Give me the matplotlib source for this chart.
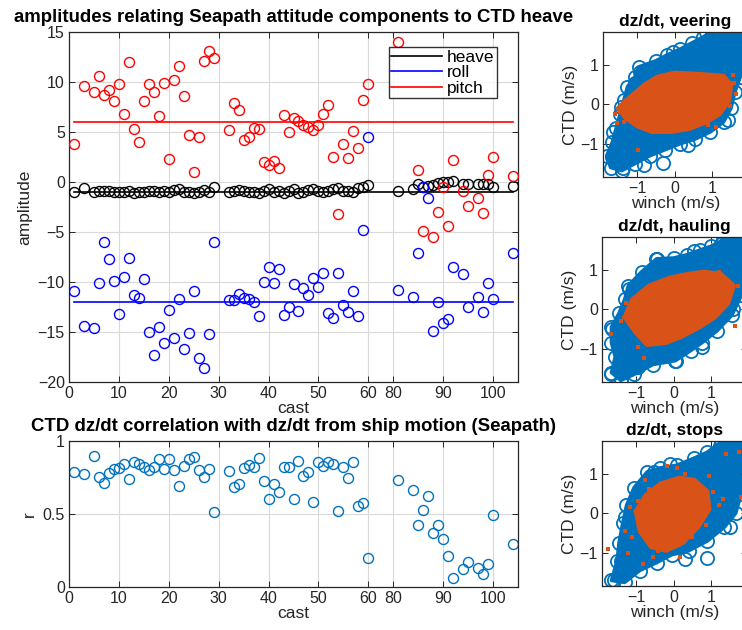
import numpy as np
import matplotlib
matplotlib.use("Agg")
import matplotlib.pyplot as plt

plt.rcParams['font.family'] = ['Liberation Sans', 'DejaVu Sans']

# ---------------- data ----------------
casts = [1, 3, 5, 6, 7, 8, 9, 10, 11, 12, 13, 14, 15, 16, 17, 18, 19, 20, 21, 22, 23, 24, 25, 26, 27, 28, 29,
         32, 33, 34, 35, 36, 37, 38, 39, 40, 41, 42, 43, 44, 45, 46, 47, 48, 49, 50, 51, 52, 53, 54, 55, 56, 57,
         58, 59, 60, 81, 84, 85, 86, 87, 88, 89, 90, 91, 92, 94, 95, 97, 98, 99, 100, 104]

heave = [-1.0, -0.6, -0.93, -0.83, -0.83, -0.87, -0.93, -0.93, -0.93, -0.83, -1.1, -1.0, -0.93, -0.87, -0.83,
         -0.93, -0.87, -0.93, -0.77, -0.63, -0.93, -1.0, -1.03, -0.93, -0.77, -0.93, -0.5,
         -0.93, -0.83, -0.73, -0.87, -0.93, -0.93, -1.03, -0.83, -0.7, -0.93, -0.83, -1.1, -0.83, -0.7, -1.03,
         -0.93, -0.77, -0.67, -0.83, -0.93, -0.83, -0.67, -0.6, -0.83, -0.83, -0.93, -0.6, -0.5, -0.27,
         -0.83, -0.7, -0.2, -0.43, -0.4, -0.27, -0.07, 0.07, 0.07, 0.13, -0.17, -0.13, -0.13, -0.17, -0.17, -0.43, -0.33]

roll = [-10.83, -14.37, -14.53, -10.03, -5.93, -7.67, -9.87, -13.17, -9.43, -7.57, -11.27, -11.53, -9.67, -15.0,
        -17.27, -14.47, -16.03, -12.77, -15.53, -11.67, -16.7, -15.03, -10.83, -17.53, -18.53, -15.13, -6.0,
        -11.8, -11.77, -11.13, -11.53, -11.67, -12.0, -13.4, -10.0, -8.47, -10.03, -8.67, -13.27, -12.43, -10.2,
        -12.87, -10.6, -11.27, -9.6, -10.43, -9.1, -13.1, -13.6, -9.1, -12.27, -13.0, -10.87, -13.33, -4.77, 4.57,
        -10.77, -11.47, -7.1, -0.47, -1.6, -14.87, -12.0, -14.03, -13.67, -8.43, -9.13, -12.43, -11.43, -12.93,
        -10.1, -11.67, -7.03]

pitch = [3.83, 9.67, 9.07, 10.63, 8.73, 9.23, 8.13, 9.8, 6.8, 12.03, 5.3, 4.0, 8.13, 9.8, 9.07, 6.67, 9.97, 2.33,
         10.2, 11.63, 8.63, 4.73, 1.0, 4.57, 12.13, 13.17, 12.4,
         5.2, 7.93, 7.27, 4.2, 4.53, 5.4, 5.37, 2.03, 1.73, 2.13, 1.47, 6.73, 5.0, 6.4, 6.13, 5.73, 5.5, 5.2, 5.73,
         6.8, 7.73, 2.57, -3.13, 3.83, 2.47, 5.13, 3.47, 8.2, 9.8,
         14.07, np.nan, 1.27, -4.87, np.nan, -5.5, -3.0, -0.43, -4.4, 2.27, -0.87, -2.4, -1.6, -3.03, 0.77, 2.5, 0.67]

corr_r = [0.789, 0.776, 0.899, 0.755, 0.714, 0.778, 0.810, 0.817, 0.842, 0.737, 0.856, 0.842, 0.824, 0.801, 0.819,
          0.874, 0.808, 0.879, 0.799, 0.691, 0.831, 0.876, 0.892, 0.801, 0.755, 0.810, 0.515,
          0.796, 0.686, 0.705, 0.817, 0.833, 0.824, 0.881, 0.728, 0.600, 0.705, 0.652, 0.819, 0.824, 0.600, 0.863,
          0.760, 0.787, 0.583, 0.854, 0.828, 0.858, 0.842, 0.522, 0.819, 0.744, 0.854, 0.556, 0.577, 0.199,
          0.735, 0.662, 0.423, 0.523, 0.620, 0.366, 0.422, 0.326, 0.210, 0.060, 0.119, 0.170, 0.128, 0.090, 0.155,
          0.490, 0.290]

mean_heave, mean_roll, mean_pitch = -1.0, -12.0, 6.0

xtick_vals = [0, 10, 20, 30, 40, 50, 60, 80, 90, 100]
series_names = ['heave', 'roll', 'pitch']

# scatter clouds: outlines and edge points (winch, CTD in m/s)
veer_blue_x = [1.00, 0.75, 0.45, 0.15, -0.20, -0.50, -0.95, -1.05, -1.25, -1.35, -1.45, -1.55, -1.65, -1.80, -1.70,
               -1.40, -1.05, -0.65, -0.25, 0.15, 0.55, 0.95, 1.30, 1.50, 1.60, 1.75, 1.90, 2.05, 2.05]
veer_blue_y = [1.85, 1.70, 1.55, 1.40, 1.25, 1.10, 0.95, 0.70, 0.45, 0.10, -0.25, -0.60, -0.95, -1.30, -1.60,
               -1.68, -1.50, -1.30, -1.15, -1.00, -0.88, -0.70, -0.45, -0.10, 0.30, 0.70, 1.00, 1.30, 1.95]
veer_edge_x = [0.84, -0.04, -0.92, -1.05, -1.41, -1.63, -1.67, -1.37, -0.80, -0.31, 0.35, 1.41, 1.63]
veer_edge_y = [1.84, 1.33, 0.82, 0.53, -0.07, -0.70, -1.33, -1.62, -1.54, -1.49, -1.03, -0.40, 0.99]
veer_or_x = [-1.50, -1.30, -1.10, -0.80, -0.45, 0.00, 0.45, 0.90, 1.30, 1.50, 1.45, 1.20, 0.85, 0.40, -0.10, -0.60,
             -1.00, -1.30]
veer_or_y = [-0.10, 0.10, 0.25, 0.50, 0.70, 0.80, 0.78, 0.75, 0.72, 0.50, 0.10, -0.25, -0.45, -0.62, -0.70, -0.70,
             -0.55, -0.35]
veer_out_x = [-1.52, -0.97, 1.59, 1.10, 1.55, -1.45, 1.48, -1.35, 0.90, 1.62, -1.58]
veer_out_y = [-0.48, -1.16, 0.53, -0.57, 0.75, -0.20, -0.05, -0.45, -0.52, 0.25, -0.25]

haul_blue_x = [1.30, 1.00, 0.70, 0.35, 0.00, -0.45, -0.85, -1.20, -1.30, -1.45, -1.65, -1.65, -1.55, -1.65, -1.40,
               -1.05, -0.55, 0.05, 0.45, 0.75, 1.15, 1.55, 1.80, 1.95, 2.05, 2.05]
haul_blue_y = [1.75, 1.60, 1.50, 1.38, 1.30, 1.28, 0.95, 0.60, 0.25, -0.10, -0.45, -0.85, -1.20, -1.60, -1.80,
               -1.65, -1.40, -1.30, -1.05, -0.85, -0.55, -0.15, 0.35, 1.00, 1.60, 1.95]
haul_edge_x = [-0.47, -1.18, -1.63, -1.67, -1.40, 0.06, 1.57, 1.26, 0.55, -0.95, 0.75]
haul_edge_y = [1.27, 0.51, -0.51, -1.65, -1.84, -1.31, 0.00, 1.66, 1.48, -1.45, -0.95]
haul_or_x = [-1.30, -1.10, -0.65, -0.10, 0.40, 0.80, 1.25, 1.60, 1.45, 1.10, 0.70, 0.20, -0.20, -0.70, -1.00]
haul_or_y = [-0.20, 0.25, 0.60, 0.80, 0.90, 0.95, 0.90, 0.60, 0.15, -0.20, -0.45, -0.70, -0.85, -0.90, -0.60]
haul_out_x = [-1.67, -1.27, 1.62, -0.78, 1.70, -1.40, 1.20, -0.95]
haul_out_y = [-0.63, 0.17, -0.43, -1.22, 0.60, -0.30, 0.95, -0.95]

stop_blue_x = [1.25, 0.90, 0.55, 0.10, -0.35, -0.70, -1.05, -1.25, -1.35, -1.45, -1.50, -1.65, -1.30, -0.90, -0.45,
               -0.05, 0.40, 0.90, 1.35, 1.65, 1.80, 1.90, 2.05, 2.05]
stop_blue_y = [1.80, 1.55, 1.40, 1.22, 1.15, 1.05, 0.65, 0.20, -0.25, -0.75, -1.20, -1.70, -1.75, -1.45, -1.25,
               -1.05, -0.95, -0.70, -0.35, 0.00, 0.50, 1.10, 1.50, 1.95]
stop_edge_x = [-1.59, -0.53, -0.09, -1.28, 0.88, 1.50, 1.24, 1.59, -1.40, 0.30]
stop_edge_y = [-1.69, 1.04, 1.25, -0.10, -1.14, -0.35, 1.71, 1.38, -1.20, -1.15]
stop_or_x = [-1.00, -0.75, -0.35, 0.15, 0.55, 0.90, 0.95, 0.65, 0.25, -0.20, -0.60, -0.90]
stop_or_y = [0.05, 0.45, 0.75, 0.90, 0.85, 0.55, 0.10, -0.35, -0.75, -0.95, -0.85, -0.45]
stop_out_x = [-1.73, -0.18, -0.65, -1.15, 0.18, -0.80, 1.75, 1.80, 0.95, 1.30, -1.10, 0.50, -0.40, 1.05, -0.95,
              0.30, 1.40, -1.20, -0.55, 0.85, -0.75, 1.20, -1.30, 0.10]
stop_out_y = [-0.90, 1.20, 0.62, 0.15, -1.10, -1.28, 1.55, 0.40, 0.95, 0.35, -0.60, -0.60, -0.95, 0.55, 0.30,
              1.00, 1.50, -1.00, -1.10, -0.30, 0.85, 0.20, -0.45, 1.15]

# ---------------- styling helpers ----------------
AX_COL = '#262626'
BLUE_M = '#0072BD'
ORANGE_M = '#D95319'
FS = 11.5
TITLE_FS = 13.4


def plotted_x(c):
    c = np.asarray(c, dtype=float)
    return np.where(c >= 80, c - 15, c)


def style_axes(ax, grid=True):
    for s in ax.spines.values():
        s.set_color(AX_COL)
        s.set_linewidth(0.9)
    ax.tick_params(direction='in', top=True, right=True, colors=AX_COL, labelsize=FS,
                   length=4, width=0.7, labelcolor=AX_COL, pad=3)
    if grid:
        ax.grid(True, color='#d9d9d9', linewidth=0.8)
        ax.set_axisbelow(True)


W, H = 742, 630
fig = plt.figure(figsize=(W / 100, H / 100), dpi=100)


def px_axes(l, t, r, b):
    return fig.add_axes([l / W, 1 - b / H, (r - l) / W, (b - t) / H])


xp = plotted_x(casts)
xtick_pos = plotted_x(xtick_vals)

# ---------------- top-left: amplitudes ----------------
ax1 = px_axes(69, 32.3, 518, 382.3)
style_axes(ax1)
ms = 7.2
ax1.plot(xp, heave, 'o', mfc='none', mec='black', ms=ms, mew=1.0, zorder=3)
ax1.plot(xp, roll, 'o', mfc='none', mec='blue', ms=ms, mew=1.0, zorder=3)
ax1.plot(xp, pitch, 'o', mfc='none', mec='red', ms=ms, mew=1.0, zorder=3)
xr = [xp[0], xp[-1]]
l1, = ax1.plot(xr, [mean_heave] * 2, color='black', lw=1.2, zorder=2)
l2, = ax1.plot(xr, [mean_roll] * 2, color='blue', lw=1.2, zorder=2)
l3, = ax1.plot(xr, [mean_pitch] * 2, color='red', lw=1.2, zorder=2)
ax1.set_xlim(0, 90)
ax1.set_ylim(-20, 15)
ax1.set_xticks(xtick_pos)
ax1.set_xticklabels([str(v) for v in xtick_vals])
ax1.set_yticks(np.arange(-20, 16, 5))
ax1.set_xlabel('cast', fontsize=FS + 1, color=AX_COL, labelpad=0)
ax1.set_ylabel('amplitude', fontsize=FS + 1, color=AX_COL, labelpad=4)
ax1.set_title('amplitudes relating Seapath attitude components to CTD heave', fontsize=TITLE_FS,
              fontweight='bold', pad=7.5)
leg = ax1.legend([l1, l2, l3], series_names, loc='upper right', bbox_to_anchor=(0.953, 0.958),
                 fontsize=FS + 1, frameon=True, fancybox=False, handlelength=2.9, handletextpad=0.3,
                 borderpad=0.15, labelspacing=0.02, borderaxespad=0.0)
leg.get_frame().set_edgecolor('black')
leg.get_frame().set_linewidth(1.0)

# ---------------- bottom-left: correlation ----------------
ax2 = px_axes(69, 441, 518, 586.7)
style_axes(ax2)
ax2.plot(xp, corr_r, 'o', mfc='none', mec=BLUE_M, ms=ms, mew=1.0)
ax2.set_xlim(0, 90)
ax2.set_ylim(0, 1)
ax2.set_xticks(xtick_pos)
ax2.set_xticklabels([str(v) for v in xtick_vals])
ax2.set_yticks([0, 0.5, 1])
ax2.set_yticklabels(['0', '0.5', '1'])
ax2.set_xlabel('cast', fontsize=FS + 1, color=AX_COL, labelpad=0)
ax2.set_ylabel('r', fontsize=FS + 1, color=AX_COL, labelpad=4)
ax2.set_title('CTD dz/dt correlation with dz/dt from ship motion (Seapath)', fontsize=TITLE_FS,
              fontweight='bold', pad=7.5)

# ---------------- right: scatter clouds ----------------
clouds = [
    ('dz/dt, veering', (603, 32, 748, 177), veer_blue_x, veer_blue_y, veer_edge_x, veer_edge_y,
     veer_or_x, veer_or_y, veer_out_x, veer_out_y),
    ('dz/dt, hauling', (602, 237, 747, 382), haul_blue_x, haul_blue_y, haul_edge_x, haul_edge_y,
     haul_or_x, haul_or_y, haul_out_x, haul_out_y),
    ('dz/dt, stops', (602, 441, 747, 586), stop_blue_x, stop_blue_y, stop_edge_x, stop_edge_y,
     stop_or_x, stop_or_y, stop_out_x, stop_out_y),
]
for title, (l, t, r, b), bx, by, ex, ey, ox, oy, qx, qy in clouds:
    ax = px_axes(l, t, r, b)
    style_axes(ax, grid=False)
    ax.fill(bx, by, color=BLUE_M, lw=0, zorder=1)
    ax.plot(bx + [bx[0]], by + [by[0]], color=BLUE_M, lw=2.5, zorder=1.5, solid_joinstyle='round')
    ax.plot(bx, by, 'o', mfc='none', mec=BLUE_M, ms=9.5, mew=1.3, zorder=2)
    ax.plot(ex, ey, 'o', mfc='none', mec=BLUE_M, ms=9.5, mew=1.3, zorder=2)
    ax.fill(ox, oy, color=ORANGE_M, lw=0, zorder=3)
    ax.plot(ox + [ox[0]], oy + [oy[0]], color=ORANGE_M, lw=3, zorder=3)
    ax.plot(qx, qy, 's', color=ORANGE_M, ms=2.4, mew=0, zorder=4)
    ax.set_xlim(-1.9, 1.95)
    ax.set_ylim(-1.84, 1.83)
    ax.set_xticks([-1, 0, 1])
    ax.set_yticks([-1, 0, 1])
    ax.set_xlabel('winch (m/s)', fontsize=FS + 1, color=AX_COL, labelpad=0)
    ax.set_ylabel('CTD (m/s)', fontsize=FS + 1, color=AX_COL, labelpad=2)
    ax.set_title(title, fontsize=12.5, fontweight='bold', pad=4)

fig.savefig('out.png', dpi=100)
